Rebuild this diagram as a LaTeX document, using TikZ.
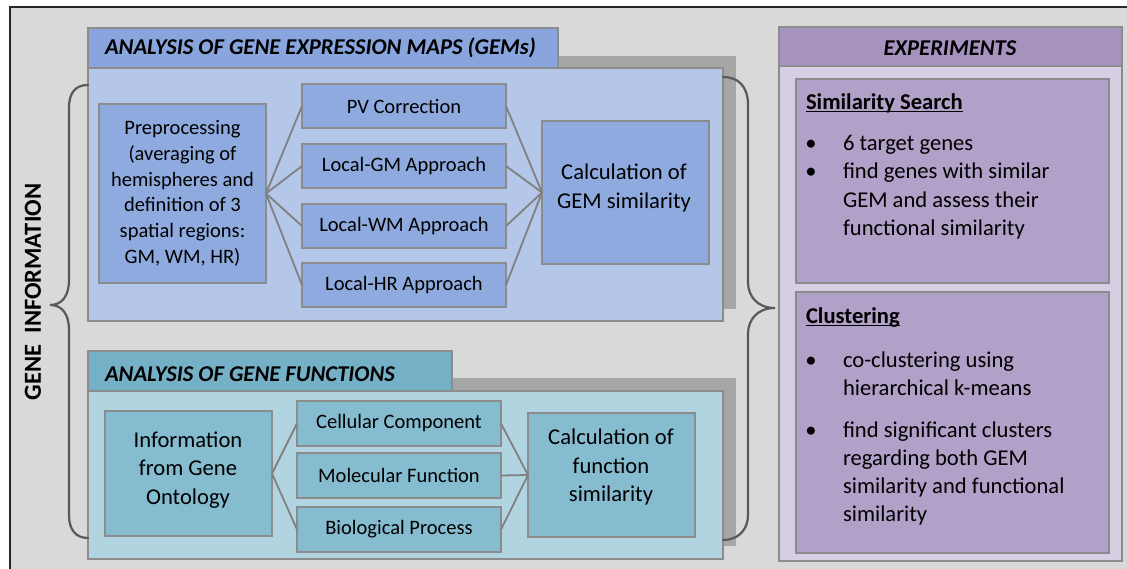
\documentclass[tikz,border=0pt]{standalone}
\usepackage{fontspec}
\setmainfont{Carlito}
\definecolor{framebg}{HTML}{D9D9D9}
\definecolor{framebk}{HTML}{262626}
\definecolor{shadowgray}{HTML}{A6A6A6}
\definecolor{edgegray}{HTML}{8C8C8C}
\definecolor{linkgray}{HTML}{808080}
\definecolor{bracegray}{HTML}{595959}
\definecolor{gemhead}{HTML}{88A5DE}
\definecolor{gempanel}{HTML}{B4C7E9}
\definecolor{gembox}{HTML}{8FAADF}
\definecolor{funhead}{HTML}{74B0C6}
\definecolor{funpanel}{HTML}{B0D5E0}
\definecolor{funbox}{HTML}{86BCCF}
\definecolor{exphead}{HTML}{A692BF}
\definecolor{exppanel}{HTML}{D8CEE3}
\definecolor{expbox}{HTML}{B1A0C7}
% thick underline for the section titles
\newcommand\thickul[1]{\setbox0=\hbox{#1}\rlap{\rule[-3.2pt]{\wd0}{1.7pt}}\box0}
\begin{document}
\begin{tikzpicture}[x=1pt,y=-1pt,
  every node/.style={inner sep=0pt, outer sep=0pt, text=black},
  tile/.style={draw=edgegray, line width=1.3pt, anchor=north west},
  link/.style={draw=linkgray, line width=1.8pt},
  brace/.style={draw=bracegray, line width=2.2pt, line cap=round},
  boxfont/.style={font=\fontsize{20.5}{25.7}\selectfont},
  bigfont/.style={font=\fontsize{22.6}{28.3}\selectfont},
  headfont/.style={font=\fontsize{22.6}{28.3}\selectfont\bfseries\itshape},
  titlefont/.style={font=\fontsize{22.6}{28.3}\selectfont\bfseries},
  dot/.style={font=\fontsize{22.6}{28.3}\selectfont, anchor=mid},
  item/.style={font=\fontsize{22.6}{28.3}\selectfont, anchor=mid west}
]
\fill[white] (0,0) rectangle (1127,569);
\useasboundingbox (0,0) rectangle (1127,569);

% outer frame
\fill[framebg] (10,7) rectangle (1127,569);
\draw[framebk, line width=2pt] (10,569) -- (10,7) -- (1127,7);

% ---- gene expression maps ----
\fill[shadowgray] (101,56) rectangle (736,309);
\node[tile, fill=gemhead, minimum width=470, minimum height=40] (gemhead) at (88,28) {};
\node[tile, fill=gempanel, minimum width=635, minimum height=253] (gempanel) at (88,68) {};
\node[headfont, anchor=west] (gemtitle) at (105,48) {ANALYSIS OF GENE EXPRESSION MAPS (GEMs)};

\node[tile, fill=gembox, minimum width=167, minimum height=179, boxfont, align=center] (prep) at (99,104)
  {Preprocessing\\(averaging of\\hemispheres and\\definition of 3\\spatial regions:\\GM, WM, HR)};
\node[tile, fill=gembox, minimum width=204, minimum height=44, boxfont] (pv) at (302,84) {PV Correction};
\node[tile, fill=gembox, minimum width=204, minimum height=44, boxfont] (gm) at (302,144) {Local-GM Approach};
\node[tile, fill=gembox, minimum width=204, minimum height=44, boxfont] (wm) at (302,204) {Local-WM Approach};
\node[tile, fill=gembox, minimum width=204, minimum height=44, boxfont] (hr) at (302,263) {Local-HR Approach};
\node[tile, fill=gembox, minimum width=167, minimum height=143] (calcgem) at (542,121) {};
\node[bigfont, align=center] (calcgemtext) at (624,188) {Calculation of\\GEM similarity};

\foreach \n in {pv,gm,wm,hr} {
  \draw[link] (prep.east) -- (\n.west);
  \draw[link] (\n.east) -- (calcgem.west);
}

% ---- gene functions ----
\fill[shadowgray] (101,378) rectangle (736,546);
\node[tile, fill=funhead, minimum width=364, minimum height=40] (funhead) at (88,351) {};
\node[tile, fill=funpanel, minimum width=635, minimum height=168] (funpanel) at (88,391) {};
\node[headfont, anchor=west] (funtitle) at (105,374) {ANALYSIS OF GENE FUNCTIONS};

\node[tile, fill=funbox, minimum width=167, minimum height=125] (info) at (105,411) {};
\node[bigfont, align=center] (infotext) at (188,470) {Information\\from Gene\\Ontology};
\node[tile, fill=funbox, minimum width=204, minimum height=45, boxfont] (cell) at (297,401) {Cellular Component};
\node[tile, fill=funbox, minimum width=204, minimum height=45, boxfont] (mol) at (297,453) {Molecular Function};
\node[tile, fill=funbox, minimum width=204, minimum height=45, boxfont] (bio) at (297,507) {Biological Process};
\node[tile, fill=funbox, minimum width=167, minimum height=124] (calcfun) at (528,413) {};
\node[bigfont, align=center] (calcfuntext) at (611,467) {Calculation of\\function\\similarity};

\draw[link] (info.east) -- (cell.west);
\draw[link] (info.east) -- (bio.west);
\foreach \n in {cell,mol,bio} \draw[link] (\n.east) -- (calcfun.west);

% ---- braces ----
\draw[brace] (88,85) .. controls (76,85) and (69,92) .. (69,108) -- (69,280)
  .. controls (69,296) and (62,305) .. (50,305)
  .. controls (62,305) and (69,314) .. (69,330) -- (69,515)
  .. controls (69,530) and (76,538) .. (88,538);
\draw[brace] (723,77) .. controls (738,77) and (748,86) .. (748,105) -- (748,282)
  .. controls (748,296) and (757,308) .. (775,308)
  .. controls (757,308) and (748,320) .. (748,334) -- (748,515)
  .. controls (748,530) and (738,540) .. (723,540);

\node[rotate=90, font=\fontsize{24.5}{29}\selectfont\bfseries] (geneinfo) at (33,292) {GENE\ \ INFORMATION};

% ---- experiments ----
\node[tile, fill=exppanel, minimum width=343, minimum height=495] (exppanel) at (779,66) {};
\node[tile, fill=exphead, minimum width=343, minimum height=39] (exphead) at (779,27) {};
\node[headfont] (exptitle) at (950,48) {EXPERIMENTS};
\node[tile, fill=expbox, minimum width=313, minimum height=204] (simbox) at (796,79) {};
\node[tile, fill=expbox, minimum width=313, minimum height=261] (clubox) at (796,292) {};

\node[titlefont, anchor=west] (simtitle) at (806,103) {\thickul{Similarity Search}};
\node[dot] (simdotA) at (811,148) {•};
\node[item] (simA) at (843,148) {6 target genes};
\node[dot] (simdotB) at (811,176) {•};
\node[item] (simB1) at (843,176) {find genes with similar};
\node[item] (simB2) at (843,205) {GEM and assess their};
\node[item] (simB3) at (843,233) {functional similarity};

\node[titlefont, anchor=west] (clutitle) at (806,317) {\thickul{Clustering}};
\node[dot] (cludotA) at (811,365) {•};
\node[item] (cluA1) at (843,365) {co-clustering using};
\node[item] (cluA2) at (843,393) {hierarchical k-means};
\node[dot] (cludotB) at (811,435) {•};
\node[item] (cluB1) at (843,435) {find significant clusters};
\node[item] (cluB2) at (843,463) {regarding both GEM};
\node[item] (cluB3) at (843,491) {similarity and functional};
\node[item] (cluB4) at (843,519) {similarity};
\end{tikzpicture}
\end{document}
